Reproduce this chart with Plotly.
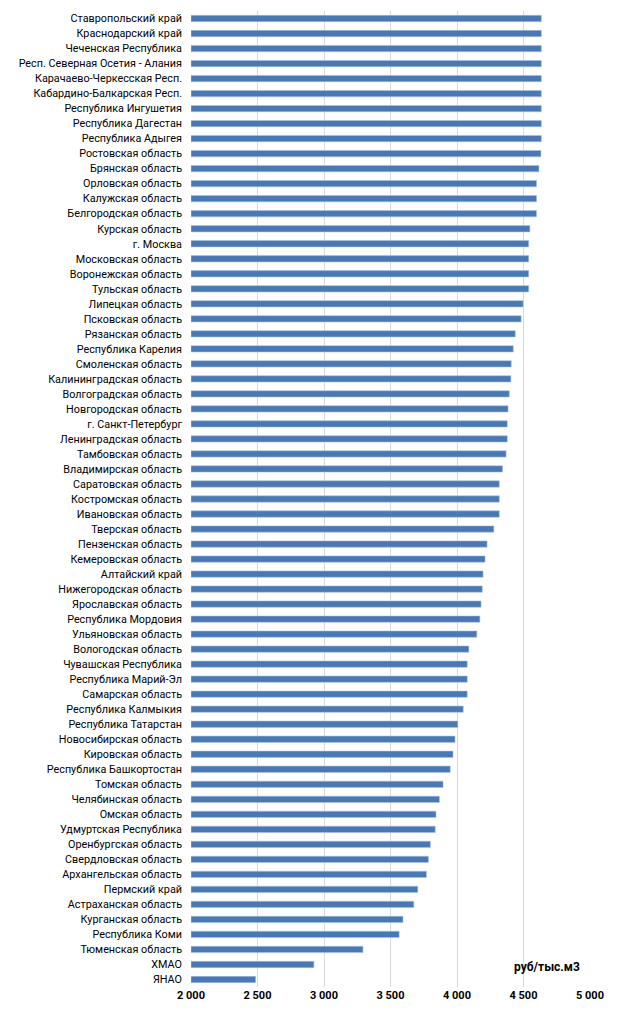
import plotly.graph_objects as go

regions = [
    "Ставропольский край", "Краснодарский край", "Чеченская Республика",
    "Респ. Северная Осетия - Алания", "Карачаево-Черкесская Респ.",
    "Кабардино-Балкарская Респ.", "Республика Ингушетия", "Республика Дагестан",
    "Республика Адыгея", "Ростовская область", "Брянская область",
    "Орловская область", "Калужская область", "Белгородская область",
    "Курская область", "г. Москва", "Московская область", "Воронежская область",
    "Тульская область", "Липецкая область", "Псковская область",
    "Рязанская область", "Республика Карелия", "Смоленская область",
    "Калининградская область", "Волгоградская область", "Новгородская область",
    "г. Санкт-Петербург", "Ленинградская область", "Тамбовская область",
    "Владимирская область", "Саратовская область", "Костромская область",
    "Ивановская область", "Тверская область", "Пензенская область",
    "Кемеровская область", "Алтайский край", "Нижегородская область",
    "Ярославская область", "Республика Мордовия", "Ульяновская область",
    "Вологодская область", "Чувашская Республика", "Республика Марий-Эл",
    "Самарская область", "Республика Калмыкия", "Республика Татарстан",
    "Новосибирская область", "Кировская область", "Республика Башкортостан",
    "Томская область", "Челябинская область", "Омская область",
    "Удмуртская Республика", "Оренбургская область", "Свердловская область",
    "Архангельская область", "Пермский край", "Астраханская область",
    "Курганская область", "Республика Коми", "Тюменская область",
    "ХМАО", "ЯНАО",
]

prices = [
    4634, 4634, 4634, 4634, 4634, 4634, 4634, 4634, 4634, 4631, 4616,
    4598, 4598, 4598, 4548, 4539, 4539, 4539, 4539, 4497, 4482,
    4438, 4423, 4408, 4405, 4393, 4384, 4378, 4378, 4369,
    4342, 4318, 4318, 4318, 4277, 4226, 4211, 4196, 4190,
    4181, 4172, 4149, 4089, 4077, 4077, 4077, 4047, 4006,
    3985, 3970, 3949, 3895, 3868, 3842, 3836, 3800, 3785,
    3770, 3705, 3675, 3594, 3565, 3293, 2924, 2486,
]

tick_vals = [2000, 2500, 3000, 3500, 4000, 4500, 5000]
tick_text = ["2 000", "2 500", "3 000", "3 500", "4 000", "4 500", "5 000"]
unit_label = "руб/тыс.м3"
axis_base = 2000

FONT = "Roboto, sans-serif"

fig = go.Figure(go.Bar(
    x=[p - axis_base for p in prices],
    y=regions,
    base=axis_base,
    orientation="h",
    marker=dict(color="#4A78B2", line=dict(color="#A9C1E0", width=0.6)),
    width=0.42,
    hoverinfo="skip",
))

fig.update_layout(
    width=620, height=1011,
    margin=dict(l=191, r=30, t=11, b=24),
    paper_bgcolor="white", plot_bgcolor="white",
    showlegend=False, hovermode=False, dragmode=False,
    font=dict(family=FONT, size=11, color="#000000"),
    xaxis=dict(
        range=[2000, 5000], tickvals=tick_vals, ticktext=tick_text,
        showgrid=True, gridcolor="#D9D9D9", gridwidth=1,
        zeroline=False, showline=False, ticks="", automargin=False,
        fixedrange=True,
        tickfont=dict(family=FONT, size=11, color="#000000", weight="bold"),
    ),
    yaxis=dict(
        autorange="reversed", showgrid=False, showline=False, ticks="",
        automargin=False, ticklabelstandoff=8, fixedrange=True,
        tickfont=dict(family=FONT, size=10.8, color="#000000"),
    ),
    annotations=[dict(
        text="<b>" + unit_label + "</b>", x=0.892, y=0.0205,
        xref="paper", yref="paper", showarrow=False,
        font=dict(family=FONT, size=12, color="#000000"),
        xanchor="center", yanchor="middle",
    )],
)

fig.write_html(
    "out.html",
    config={"displayModeBar": False, "staticPlot": True},
    post_script="document.body.style.margin='0';document.body.style.overflow='hidden';",
)
